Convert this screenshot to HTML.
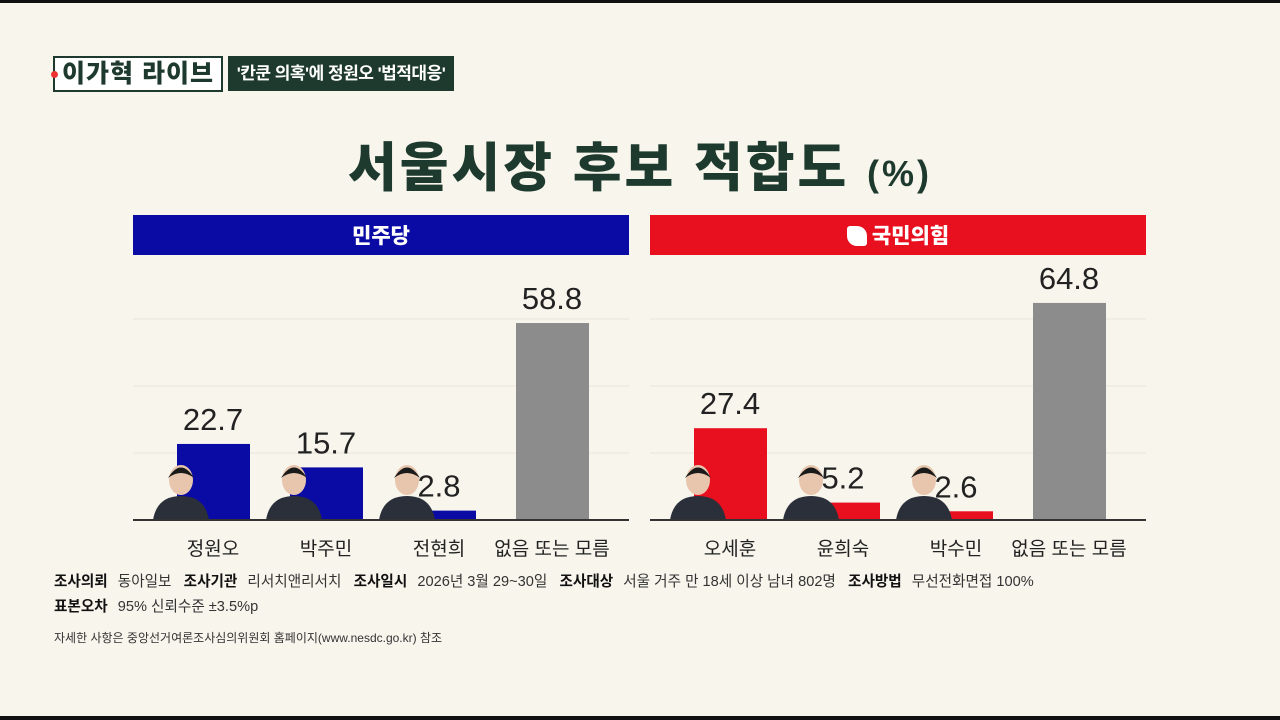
<!DOCTYPE html>
<html><head><meta charset="utf-8">
<style>
body{margin:0;width:1280px;height:720px;background:#f7f5ec;overflow:hidden;position:relative;font-family:"Liberation Sans","Noto Sans CJK KR",sans-serif;}
.abs{position:absolute}
.foot{font-size:14.6px;color:#333;white-space:nowrap;letter-spacing:0px}
.foot b{color:#111;margin-right:6px}
</style></head><body>
<div class="abs" style="left:0;top:0;width:1280px;height:3px;background:#111"></div>
<div class="abs" style="left:0;top:716px;width:1280px;height:4px;background:#111"></div>
<div class="abs" style="left:53px;top:56px;width:166px;height:32px;border:2px solid #1e3a2e;background:#fff;font-weight:900;font-size:25px;color:#1e3a2e;line-height:32px;text-align:center;letter-spacing:1px;white-space:nowrap">이가혁 라이브<span class="abs" style="left:-4px;top:13px;width:7px;height:7px;border-radius:50%;background:#e33"></span></div>
<div class="abs" style="left:228px;top:56px;width:226px;height:35px;background:#1e3a2e;color:#fff;font-weight:700;font-size:17px;line-height:35px;text-align:center;white-space:nowrap;letter-spacing:-0.5px">'칸쿤 의혹'에 정원오 '법적대응'</div>
<div class="abs" style="left:0;width:1280px;top:126px;text-align:center;font-weight:900;font-size:53px;color:#1e3a2e;letter-spacing:3px;white-space:nowrap">서울시장 후보 적합도 <span style="font-size:36px">(%)</span></div>
<div class="abs" style="left:133px;top:215px;width:496px;height:40px;background:#0a0aa5;color:#fff;font-weight:900;font-size:21px;line-height:44px;text-align:center">민주당</div>
<div class="abs" style="left:650px;top:215px;width:496px;height:40px;background:#e8101e;color:#fff;font-weight:900;font-size:21px;line-height:44px;text-align:center"><span style="display:inline-block;width:20px;height:20px;background:#fff;border-radius:3px 10px 3px 10px;vertical-align:-3px;margin-right:5px"></span>국민의힘</div>
<svg class="abs" style="left:0;top:0" width="1280" height="720" id="chart"></svg>
<div class="abs foot" style="left:54px;top:570px"><b>조사의뢰</b> 동아일보 &nbsp; <b>조사기관</b> 리서치앤리서치 &nbsp; <b>조사일시</b> 2026년 3월 29~30일 &nbsp; <b>조사대상</b> 서울 거주 만 18세 이상 남녀 802명 &nbsp; <b>조사방법</b> 무선전화면접 100%</div>
<div class="abs foot" style="left:54px;top:595px"><b>표본오차</b> 95% 신뢰수준 ±3.5%p</div>
<div class="abs" style="left:54px;top:629px;font-size:12px;color:#333;white-space:nowrap">자세한 사항은 중앙선거여론조사심의위원회 홈페이지(www.nesdc.go.kr) 참조</div>
<script>
const leftCats=["정원오","박주민","전현희","없음 또는 모름"];
const leftVals=[22.7,15.7,2.8,58.8];
const rightCats=["오세훈","윤희숙","박수민","없음 또는 모름"];
const rightVals=[27.4,5.2,2.6,64.8];
const svg=document.getElementById('chart');
const NS="http://www.w3.org/2000/svg";
const base=520,scale=3.35;
function y(v){return base-v*scale;}
function mk(t,a,p){const e=document.createElementNS(NS,t);for(const k in a)e.setAttribute(k,a[k]);(p||svg).appendChild(e);return e;}
function panel(x0,cats,vals,color,name){
  [20,40,60].forEach(g=>{const l=mk('line',{x1:x0,x2:x0+496,y1:y(g),y2:y(g),stroke:'#ece5dc','stroke-width':1});
  
  });
  cats.forEach((c,i)=>{
    const cx=x0+80+i*113;
    const last=i===cats.length-1;
    const r=mk('rect',{x:cx-36,y:y(vals[i]),width:73,height:vals[i]*scale,fill:last?'#8c8c8c':color});
    
    
    if(!last){
      const px=cx-32;
      const g=mk('g',{});
      
      
      mk('path',{d:`M${px-28} ${base} Q${px-24} ${base-24} ${px} ${base-24} Q${px+24} ${base-24} ${px+28} ${base}Z`,fill:'#2a2f3a'},g);
      mk('ellipse',{cx:px,cy:base-40,rx:12,ry:15,fill:'#e8c6ad'},g);
      mk('path',{d:`M${px-13} ${base-42} Q${px} ${base-63} ${px+13} ${base-42} Q${px} ${base-52} ${px-13} ${base-42}Z`,fill:'#1a1a1a'},g);
    }
    const t=mk('text',{x:cx,y:y(vals[i])-14,'text-anchor':'middle','font-size':31,fill:'#222','font-family':'Liberation Sans, sans-serif'});
    t.textContent=vals[i].toFixed(1);
    
    
    const cl=mk('text',{x:cx,y:555,'text-anchor':'middle','font-size':19,fill:'#222','font-family':'Liberation Sans, Noto Sans CJK KR, sans-serif'});
    cl.textContent=c;
    
    
  });
  const ax=mk('line',{x1:x0,x2:x0+496,y1:base,y2:base,stroke:'#333','stroke-width':2});
  
  
}
panel(133,leftCats,leftVals,'#0a0aa5','democratic');
panel(650,rightCats,rightVals,'#e8101e','ppp');
</script>
</body></html>
